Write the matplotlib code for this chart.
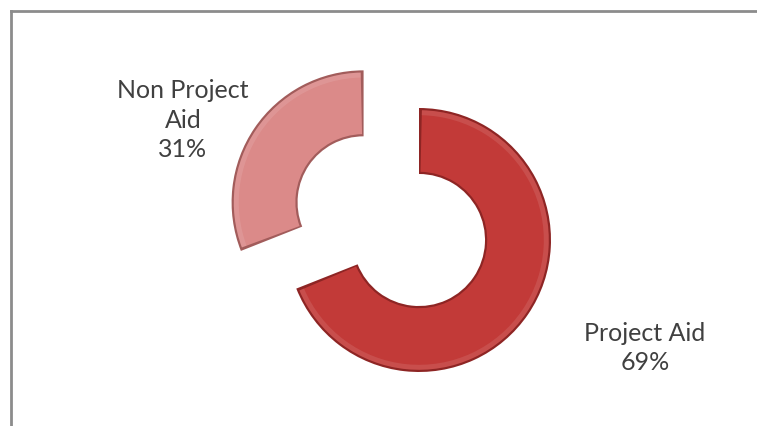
import math
import matplotlib.pyplot as plt
from matplotlib.lines import Line2D
from matplotlib.patches import Wedge

# aid split
labels = ["Project Aid", "Non Project Aid"]
shares = [69, 31]
label_text = ["Project Aid\n69%", "Non Project\nAid\n31%"]
label_pos = [(645, 78), (183, 306)]

colors = ["#c23a38", "#db8a89"]
shades = ["#8e2524", "#a25c5b"]

W, H = 757, 426
R, RING = 132, 66
fig = plt.figure(figsize=(W / 100, H / 100), dpi=100)
ax = fig.add_axes([0, 0, 1, 1])

wedges, _ = ax.pie(shares, radius=R, center=(419, 186), startangle=90,
                   counterclock=False, explode=[0, 67], colors=shades,
                   wedgeprops=dict(width=RING, linewidth=0))

# bevel: lay a slightly smaller wedge of the face colour on top of each
inset = 2.2
for w, c in zip(wedges, colors):
    rm = w.r - RING / 2
    da = math.degrees(inset / rm)
    ax.add_patch(Wedge(w.center, w.r - inset, w.theta1 + da, w.theta2 - da,
                       width=RING - 2 * inset, facecolor=c, linewidth=0))
    # soft highlight along the outer rim
    ax.add_patch(Wedge(w.center, w.r - inset, w.theta1 + da, w.theta2 - da,
                       width=5, facecolor="white", alpha=0.10, linewidth=0))

for txt, (x, y) in zip(label_text, label_pos):
    ax.text(x, y, txt, ha="center", va="center", fontsize=18,
            family="Lato", color="#404040", linespacing=1.32)

ax.set_xlim(0, W)
ax.set_ylim(0, H)
ax.set_aspect("auto")
ax.axis("off")

# chart frame (top and left edges visible)
fig.add_artist(Line2D([11 / W, 1], [1 - 11 / H, 1 - 11 / H], color="#8c8c8c", lw=2))
fig.add_artist(Line2D([11 / W, 11 / W], [0, 1 - 11 / H], color="#8c8c8c", lw=2))

fig.savefig("out.png", dpi=100, facecolor="white")
